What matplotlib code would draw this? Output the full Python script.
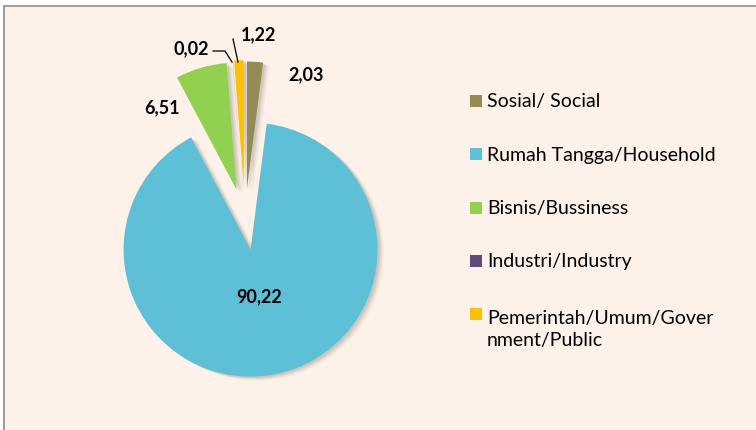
import matplotlib
matplotlib.use("Agg")
import matplotlib.pyplot as plt
from matplotlib.patches import Rectangle, Shadow

categories = ["Sosial/ Social", "Rumah Tangga/Household", "Bisnis/Bussiness",
              "Industri/Industry", "Pemerintah/Umum/Gover\nnment/Public"]
values = [2.03, 90.22, 6.51, 0.02, 1.22]
colors = ["#948A54", "#5DC0D6", "#92D050", "#604A7B", "#FFC000"]
explode = [0.24, 0.245, 0.24, 0.25, 0.25]

W, H = 756, 431
R = 127
def Y(y):
    return H - y

plt.rcParams["font.family"] = ["Lato", "DejaVu Sans"]

fig = plt.figure(figsize=(W / 100, H / 100), dpi=100, facecolor="white")
ax = fig.add_axes([0, 0, 1, 1])

# chart area background + border (only left/top edges visible)
ax.add_patch(Rectangle((4, -30), 800, Y(6.5) + 30, facecolor="#FDF2E9",
                       edgecolor="#8C8C8C", lw=1.2, zorder=0))

# explode in matplotlib is in data units -> scale by radius
wedges, _ = ax.pie(values, colors=colors, explode=[e * R for e in explode],
                   startangle=90, counterclock=False, center=(245, Y(220)),
                   radius=R, wedgeprops=dict(linewidth=0))

# soft shadow, several layers
for w in wedges:
    for k, a in [(1.5, 0.12), (2.5, 0.10), (3.5, 0.08), (4.5, 0.06)]:
        ax.add_patch(Shadow(w, k, -k * 0.6, facecolor="#6E665E",
                            edgecolor="none", alpha=a, zorder=0.5))

# data labels
lab_pos = [(306, 75), (259, 297), (162, 108), (191, 49), (259, 35)]
for v, (x, y) in zip(values, lab_pos):
    ax.text(x, Y(y), f"{v:.2f}".replace(".", ","), ha="center", va="center",
            fontsize=13, fontweight="bold", color="black")

# leader lines for the two thin slices
ax.plot([213, 225, 232], [Y(52), Y(52), Y(63)], color="black", lw=0.9)
ax.plot([233, 238], [Y(40), Y(63)], color="black", lw=0.9)

# legend
for i, (lab, c) in enumerate(zip(categories, colors)):
    yy = 102 + i * 53.3
    ax.add_patch(Rectangle((470, Y(yy) - 6), 12, 12, facecolor=c,
                           edgecolor="none"))
    ty = yy + 14 if "\n" in lab else yy
    ax.text(487, Y(ty), lab, ha="left", va="center", fontsize=14,
            color="black", linespacing=1.35)

ax.set_xlim(0, W)
ax.set_ylim(0, H)
ax.set_aspect("equal")
ax.axis("off")

fig.savefig("out.png", dpi=100, facecolor="white")
